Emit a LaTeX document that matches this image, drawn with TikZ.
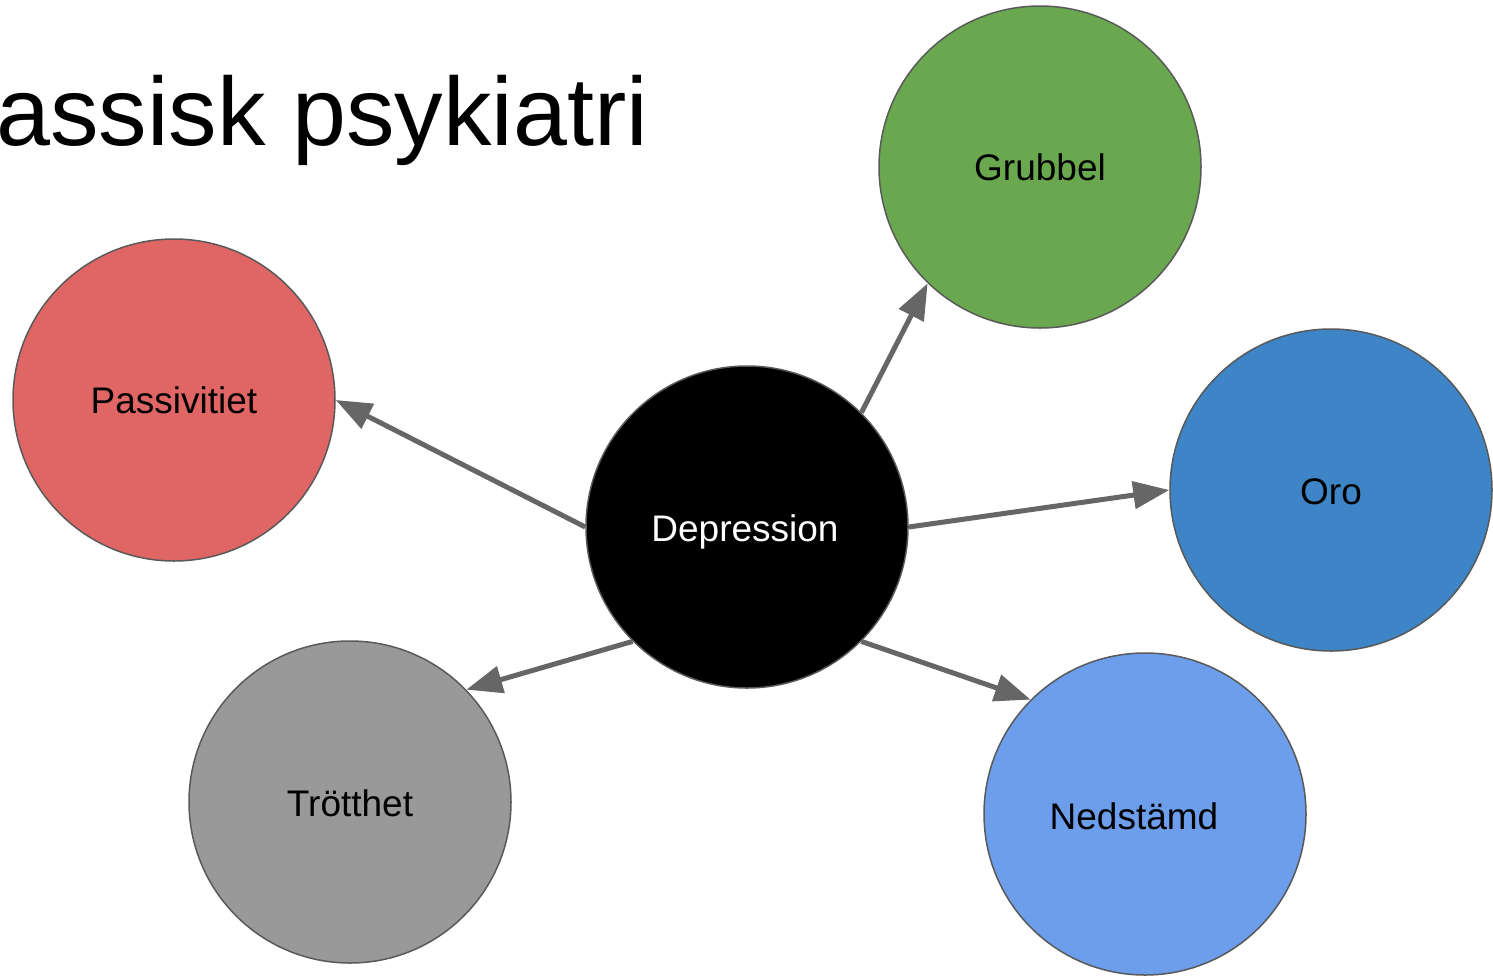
\documentclass[tikz,border=0pt]{standalone}
\usepackage{fontspec}
\setmainfont{Liberation Sans}
\usetikzlibrary{arrows.meta}
\definecolor{grubgreen}{HTML}{6AA84F}
\definecolor{passred}{HTML}{E06666}
\definecolor{oroblue}{HTML}{3D85C6}
\definecolor{trotgray}{HTML}{999999}
\definecolor{nedblue}{HTML}{6D9EEB}
\definecolor{edgegray}{HTML}{595959}
\definecolor{arrowgray}{HTML}{666666}
\begin{document}
\begin{tikzpicture}[x=1pt,y=-1pt,
  bubble/.style={circle, draw=edgegray, line width=1.5pt, minimum size=322pt, inner sep=0pt},
  lbl/.style={anchor=base, inner sep=0pt, font=\fontsize{37}{41}\selectfont},
  link/.style={draw=arrowgray, line width=5pt, -{Triangle[length=36pt,width=27pt]}}]
\useasboundingbox (0,0) rectangle (1493,975);

% heading, running off the left edge
\node[anchor=base west, inner sep=0pt, font=\fontsize{97}{110}\selectfont] (title) at (-4,145) {assisk psykiatri};

% bubbles
\node[bubble, fill=grubgreen] (grub) at (1040,167) {};
\node[bubble, fill=passred]   (pass) at (174,400) {};
\node[bubble, fill=black]     (dep)  at (747,527) {};
\node[bubble, fill=oroblue]   (oro)  at (1331,490) {};
\node[bubble, fill=trotgray]  (trot) at (350,802) {};
\node[bubble, fill=nedblue]   (ned)  at (1145,814) {};

% bubble texts
\node[lbl] (grubT) at (1040,180) {Grubbel};
\node[lbl] (passT) at (174,413) {Passivitiet};
\node[lbl, text=white] (depT) at (745,541) {Depression};
\node[lbl] (oroT)  at (1331,504) {Oro};
\node[lbl] (trotT) at (350,816) {Trötthet};
\node[lbl] (nedT)  at (1134,829) {Nedstämd};

% arrows out of the centre bubble
\draw[link] (dep.45)  -- (grub.226);
\draw[link] (dep.180) -- (pass.0);
\draw[link] (dep.0)   -- (oro.180);
\draw[link] (dep.225) -- (trot.44);
\draw[link] (dep.-45) -- (ned.135);
\end{tikzpicture}
\end{document}
